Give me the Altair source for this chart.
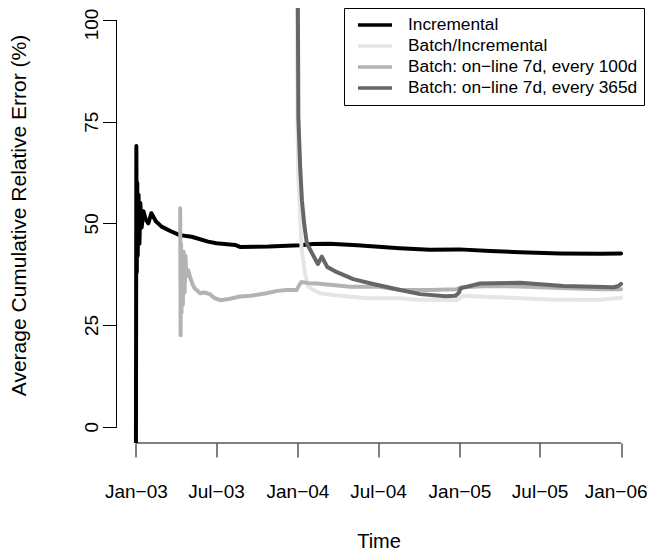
import json
import altair as alt
import pandas as pd

START = pd.Timestamp("2003-01-01")

series_names = [
    "Incremental",
    "Batch/Incremental",
    "Batch: on\u2212line 7d, every 100d",
    "Batch: on\u2212line 7d, every 365d",
]
series_colors = ["#000000", "#E5E5E5", "#B3B3B3", "#666666"]

# Incremental (days since 2003-01-01, value %)
inc_days = [0, 1, 2, 3, 4, 6, 8, 10, 13, 17, 22, 28, 35, 45, 58, 80, 99, 126, 163, 182,
            224, 235, 300, 371, 400, 438, 500, 596, 664, 730, 800, 868, 958, 1049, 1096]
inc_vals = [-10, 69, 38, 60, 42, 57, 45, 55, 49, 53, 51, 50, 52.5, 50.5, 49.2, 48, 47.1, 46.7, 45.5, 45.1,
            44.7, 44.2, 44.3, 44.6, 44.9, 45.0, 44.6, 43.9, 43.5, 43.6, 43.2, 42.9, 42.6, 42.5, 42.6]

# Batch/Incremental
bi_days = [362, 365, 367, 371, 374, 382, 389, 401, 416, 445, 521, 597, 626, 725, 739, 800, 850, 932, 1000, 1049, 1096]
bi_vals = [150, 76, 60.6, 52.5, 44.2, 37.7, 34.5, 33.6, 32.8, 32.4, 31.6, 31.6, 31.3, 31.1, 32.2, 31.9, 31.7, 31.3, 31.2, 31.2, 31.7]

# Batch: on-line 7d, every 100d
b100_days = [100, 101, 102, 103, 104, 106, 108, 110, 112, 114, 118, 122, 128, 133, 145, 155, 167, 178, 190, 210,
             235, 260, 295, 320, 341, 363, 370, 374, 390, 408, 450, 484, 551, 597, 664, 725, 737, 800, 868, 958, 1049, 1096]
b100_vals = [53.7, 22.5, 45, 28, 42, 30, 43, 33, 42, 37, 38.5, 36.9, 35, 34, 32.8, 33.0, 32.6, 31.6, 31.1, 31.4,
             32, 32.2, 32.8, 33.4, 33.6, 33.6, 35.0, 35.6, 35.3, 35.2, 34.8, 34.4, 34.4, 33.6, 33.6, 33.8, 34.3, 34.6, 34.5, 34.1, 33.8, 33.8]

# Batch: on-line 7d, every 365d
b365_days = [364, 367, 371, 375, 380, 386, 398, 411, 420, 432, 454, 491, 536, 597, 642, 700, 722, 730, 733,
             777, 868, 966, 1079, 1090, 1096]
b365_vals = [150, 76, 64, 55.7, 50, 45.1, 42.6, 40, 41.8, 39.3, 38, 36.3, 35.1, 33.6, 32.6, 32.1, 32.2, 33.0, 34.0,
             35.2, 35.4, 34.6, 34.3, 34.6, 35.1]

tick_dates = ["2003-01-01", "2003-07-01", "2004-01-01", "2004-07-01", "2005-01-01", "2005-07-01", "2006-01-01"]
tick_labels = ["Jan\u221203", "Jul\u221203", "Jan\u221204", "Jul\u221204", "Jan\u221205", "Jul\u221205", "Jan\u221206"]
y_ticks = [0, 25, 50, 75, 100]
y_limits = [-4, 102.94]


def to_ms(ts):
    return int(pd.Timestamp(ts).value // 10**6)


def frame(days, vals, name):
    return pd.DataFrame({
        "t": [to_ms(START + pd.Timedelta(days=d)) for d in days],
        "v": vals,
        "series": name,
    })


tick_ms = [to_ms(d) for d in tick_dates]
span = tick_ms[-1] - tick_ms[0]
x_domain = [tick_ms[0] - 0.04 * span, tick_ms[-1] + 0.04 * span]

FONT = "Liberation Sans"
W, H = 524, 435

ms_js = json.dumps(tick_ms)
lab_js = json.dumps(tick_labels, ensure_ascii=False)
label_expr = (
    f"indexof({ms_js}, toNumber(datum.value)) >= 0 ? "
    f"{lab_js}[indexof({ms_js}, toNumber(datum.value))] : ''"
)

x_enc = alt.X(
    "t:T",
    scale=alt.Scale(type="utc", domain=x_domain, nice=False),
    axis=alt.Axis(
        values=tick_ms, labelExpr=label_expr, title="Time", domain=False, grid=False,
        tickSize=14, tickColor="black", tickWidth=1,
        labelFont=FONT, labelFontSize=19, labelColor="black", labelPadding=40.5,
        labelBaseline="alphabetic", labelFlush=False, labelOverlap=False,
        labelOffset={"condition": {"test": f"toNumber(datum.value) >= {tick_ms[-1]}", "value": -5.5}, "value": 0},
        titleFont=FONT, titleFontSize=20, titleFontWeight="normal", titleColor="black",
        titleBaseline="alphabetic", titleY=104,
    ),
)
y_enc = alt.Y(
    "v:Q",
    scale=alt.Scale(domain=y_limits, nice=False, zero=False),
    axis=alt.Axis(
        values=y_ticks, title="Average Cumulative Relative Error (%)", domain=False, grid=False,
        tickSize=14, tickColor="black", tickWidth=1,
        labelFont=FONT, labelFontSize=19, labelColor="black", labelAngle=270,
        labelAlign="center", labelBaseline="alphabetic", labelPadding=5.5, labelFlush=False,
        labelOffset={"condition": {"test": f"datum.value >= {y_ticks[-1]}", "value": 4}, "value": 0},
        titleFont=FONT, titleFontSize=21, titleFontWeight="normal", titleColor="black",
        titleAngle=270, titleBaseline="bottom", titleAlign="center", titleX=-87, titleY=207,
    ),
)

color_scale = alt.Scale(domain=series_names, range=series_colors)
legend = alt.Legend(
    orient="none", legendX=227.5, legendY=0, title=None, direction="vertical",
    symbolType="stroke", symbolSize=1156, symbolStrokeWidth=3.5, clipHeight=21,
    padding=6.5, symbolOffset=5.5, labelOffset=14, rowPadding=0,
    labelFont=FONT, labelFontSize=17.3, labelColor="black", labelLimit=400,
    strokeColor="black", fillColor="white",
)

datasets = [
    frame(inc_days, inc_vals, series_names[0]),
    frame(bi_days, bi_vals, series_names[1]),
    frame(b100_days, b100_vals, series_names[2]),
    frame(b365_days, b365_vals, series_names[3]),
]

layers = []
for i, df in enumerate(datasets):
    enc_x = x_enc if i == 0 else alt.X("t:T")
    enc_y = y_enc if i == 0 else alt.Y("v:Q")
    layers.append(
        alt.Chart(df).mark_line(strokeWidth=4, clip=True, strokeJoin="round", strokeCap="round").encode(
            x=enc_x, y=enc_y,
            color=alt.Color("series:N", scale=color_scale, legend=legend),
        )
    )

xaxis_df = pd.DataFrame({"t": [tick_ms[0]], "t2": [tick_ms[-1]], "v": [y_limits[0]]})
yaxis_df = pd.DataFrame({"t": [x_domain[0]], "v": [y_ticks[0]], "v2": [y_ticks[-1]]})

x_line = alt.Chart(xaxis_df).mark_rule(color="black", strokeWidth=1).encode(
    x=alt.X("t:T"), x2="t2:T", y=alt.Y("v:Q"))
y_line = alt.Chart(yaxis_df).mark_rule(color="black", strokeWidth=1).encode(
    x=alt.X("t:T"), y=alt.Y("v:Q"), y2="v2:Q")

# total SVG width kept at 639 px so the page's flex container does not shrink it
chart = alt.layer(*layers, x_line, y_line).properties(
    width=W, height=H,
    padding={"left": 108.5, "top": 0, "right": 6.5, "bottom": 107},
    autosize=alt.AutoSizeParams(type="none"),
    background="white",
).configure_view(stroke=None)

chart.save("out.html", embed_options={"renderer": "svg", "actions": False})
